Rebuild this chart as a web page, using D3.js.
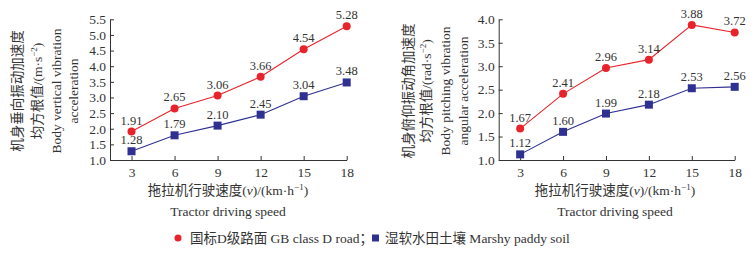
<!DOCTYPE html>
<html>
<head>
<meta charset="utf-8">
<script src="https://d3js.org/d3.v7.min.js"></script>
<style>
  body { margin: 0; background: #fff; }
  text { font-family: "Liberation Serif", "Times New Roman", "Noto Sans CJK SC", serif; fill: #333; }
</style>
</head>
<body>
<div id="chart"></div>
<script>
// Data
const speeds = [3, 6, 9, 12, 15, 18];
const vertRoad = [1.91, 2.65, 3.06, 3.66, 4.54, 5.28];
const vertSoil = [1.28, 1.79, 2.10, 2.45, 3.04, 3.48];
const pitchRoad = [1.67, 2.41, 2.96, 3.14, 3.88, 3.72];
const pitchSoil = [1.12, 1.60, 1.99, 2.18, 2.53, 2.56];
const vertTicks = [1.0, 1.5, 2.0, 2.5, 3.0, 3.5, 4.0, 4.5, 5.0, 5.5];
const pitchTicks = [1.0, 1.5, 2.0, 2.5, 3.0, 3.5, 4.0];

const red = "#e8232b", blue = "#2e3192";

const svg = d3.select("#chart").append("svg")
  .attr("width", 756).attr("height", 253);

function panel(opts) {
  const x = d3.scaleLinear().domain([1.5, 18]).range([opts.left, opts.right]);
  const y = d3.scaleLinear().domain(opts.yDomain).range([160, 19.3]);
  const g = svg.append("g");

  g.append("g").attr("transform", "translate(0,160)")
    .call(d3.axisBottom(x).tickValues(speeds).tickSizeInner(-4).tickSizeOuter(0).tickPadding(7));
  g.append("g").attr("transform", `translate(${opts.left},0)`)
    .call(d3.axisLeft(y).tickValues(opts.ticks).tickFormat(d3.format(".1f")).tickSizeInner(-4).tickSizeOuter(0).tickPadding(4));
  g.selectAll(".domain, .tick line").attr("stroke", "#333");
  g.selectAll(".tick text").style("font-size", "13.5px").style("font-family", "Liberation Serif").attr("fill", "#333");

  const line = d3.line().x((d, i) => x(speeds[i])).y(d => y(d));

  [[opts.soil, blue], [opts.road, red]].forEach(([vals, col]) => {
    g.append("path").attr("d", line(vals)).attr("fill", "none")
      .attr("stroke", col).attr("stroke-width", 1.1);
  });

  g.selectAll(".sq").data(opts.soil).join("rect")
    .attr("x", (d, i) => x(speeds[i]) - 4).attr("y", d => y(d) - 4)
    .attr("width", 8).attr("height", 8).attr("fill", blue);
  g.selectAll(".ci").data(opts.road).join("circle")
    .attr("cx", (d, i) => x(speeds[i])).attr("cy", d => y(d))
    .attr("r", 4).attr("fill", red);

  [opts.road, opts.soil].forEach(vals => {
    g.append("g").selectAll("text").data(vals).join("text")
      .attr("x", (d, i) => x(speeds[i])).attr("y", d => y(d) - 7)
      .attr("text-anchor", "middle").style("font-size", "12.5px")
      .text(d => d.toFixed(2));
  });

  // x title
  const cx = opts.titleX;
  const t1 = g.append("text").attr("x", cx).attr("y", 195)
    .attr("text-anchor", "middle").style("font-size", "13.5px");
  t1.append("tspan").text("拖拉机行驶速度(");
  t1.append("tspan").style("font-style", "italic").text("v");
  t1.append("tspan").text(")/(km·h");
  t1.append("tspan").attr("dy", -5).style("font-size", "9px").text("−1");
  t1.append("tspan").attr("dy", 5).text(")");
  g.append("text").attr("x", cx).attr("y", 216)
    .attr("text-anchor", "middle").style("font-size", "13.5px").text("Tractor driving speed");

  // y title
  opts.yLines.forEach((ln, k) => {
    const t = g.append("text")
      .attr("transform", `translate(${opts.yLineX[k]},91) rotate(-90)`)
      .attr("text-anchor", "middle").style("font-size", "13.5px");
    if (ln.unit) {
      t.append("tspan").text(ln.text);
      t.append("tspan").attr("dy", -5).style("font-size", "9px").text("−2");
      t.append("tspan").attr("dy", 5).text(")");
    } else {
      t.text(ln.text);
    }
  });
}

panel({
  left: 110, right: 346.7, yDomain: [1, 5.5], ticks: vertTicks,
  road: vertRoad, soil: vertSoil, titleX: 228,
  yLines: [
    { text: "机身垂向振动加速度" },
    { text: "均方根值/(m·s", unit: true },
    { text: "Body vertical vibration" },
    { text: "acceleration" }
  ],
  yLineX: [21.5, 42, 60.5, 77.5]
});

panel({
  left: 498.7, right: 734.7, yDomain: [1, 4], ticks: pitchTicks,
  road: pitchRoad, soil: pitchSoil, titleX: 615,
  yLines: [
    { text: "机身俯仰振动角加速度" },
    { text: "均方根值/(rad·s", unit: true },
    { text: "Body pitching vibration" },
    { text: "angular acceleration" }
  ],
  yLineX: [412.5, 430.5, 449.5, 467.5]
});

// legend
const lg = svg.append("g");
lg.append("circle").attr("cx", 178).attr("cy", 238).attr("r", 3.5).attr("fill", red);
lg.append("text").attr("x", 190).attr("y", 243).style("font-size", "13.5px").text("国标D级路面 GB class D road；");
lg.append("rect").attr("x", 372).attr("y", 234.5).attr("width", 7).attr("height", 7).attr("fill", blue);
lg.append("text").attr("x", 385).attr("y", 243).style("font-size", "13.5px").text("湿软水田土壤 Marshy paddy soil");
</script>
</body>
</html>
